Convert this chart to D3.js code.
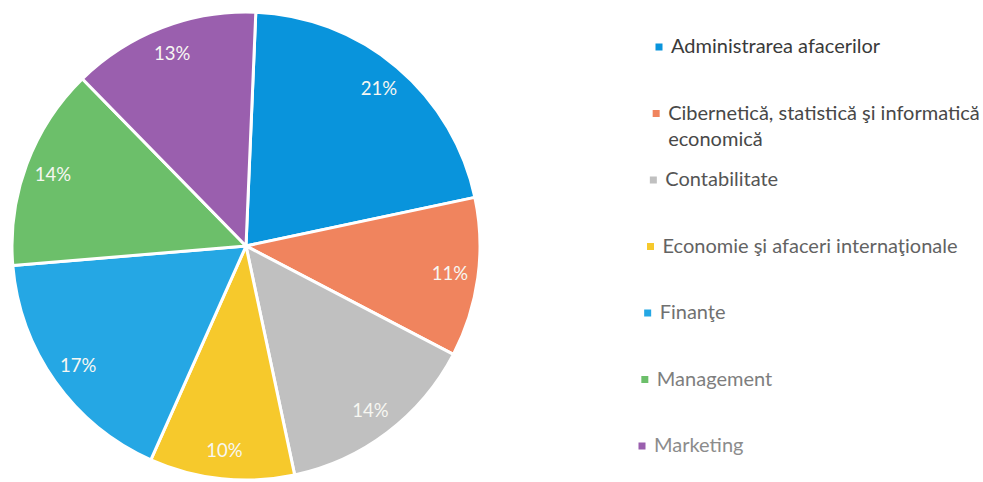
<!DOCTYPE html>
<html>
<head>
<meta charset="utf-8">
<script src="https://cdn.jsdelivr.net/npm/d3@7"></script>
<style>
  body { margin: 0; background: #fff; }
</style>
</head>
<body>
<div class="chart"></div>
<script>
const categories = [
  "Administrarea afacerilor",
  "Cibernetică, statistică şi informatică economică",
  "Contabilitate",
  "Economie şi afaceri internaţionale",
  "Finanţe",
  "Management",
  "Marketing"
];
const values = [21, 11, 14, 10, 17, 14, 13];
const colors = ["#0994dc", "#f0845e", "#c0c0c0", "#f6c92c", "#25a7e4", "#6cbf6a", "#9a5fae"];

const data = categories.map((c, i) => ({name: c, value: values[i]}));

const width = 983, height = 482;
const cx = 246, cy = 246, radius = 234;
const tilt = 2.4 * Math.PI / 180;

const svg = d3.select(".chart").append("svg")
    .attr("width", width)
    .attr("height", height);

const color = d3.scaleOrdinal()
    .domain(categories)
    .range(colors);

const pie = d3.pie()
    .value(d => d.value)
    .sort(null)
    .startAngle(tilt)
    .endAngle(2 * Math.PI + tilt);

const arc = d3.arc()
    .innerRadius(0)
    .outerRadius(radius);

const labelArc = d3.arc()
    .innerRadius(radius * 0.88)
    .outerRadius(radius * 0.88);

const arcs = pie(data);

const g = svg.append("g")
    .attr("transform", `translate(${cx},${cy})`);

g.selectAll("path")
    .data(arcs)
    .join("path")
    .attr("d", arc)
    .attr("fill", d => color(d.data.name))
    .attr("stroke", "white")
    .attr("stroke-width", 3)
    .attr("stroke-linejoin", "round");

g.selectAll("text")
    .data(arcs)
    .join("text")
    .attr("transform", d => `translate(${labelArc.centroid(d)})`)
    .attr("text-anchor", "middle")
    .attr("dy", "0.35em")
    .attr("font-family", "Lato, sans-serif")
    .attr("font-size", 18.5)
    .attr("fill", "#f7f7f2")
    .text(d => d.data.value + "%");

// legend (the photo leans a bit, so items drift left going down)
const y = d3.scalePoint()
    .domain(categories)
    .range([47, 446]);

const x = d3.scaleLinear()
    .domain([47, 446])
    .range([659, 642]);

const legend = svg.append("g")
    .attr("font-family", "Lato, sans-serif")
    .attr("font-size", 20);

const item = legend.selectAll("g")
    .data(categories)
    .join("g")
    .attr("transform", d => `translate(${x(y(d))},${y(d)})`);

item.append("rect")
    .attr("x", -3.5)
    .attr("y", -3.5)
    .attr("width", 7)
    .attr("height", 7)
    .attr("fill", d => color(d));

const fade = d3.interpolateRgb("#3a3a3a", "#8c8c8c");

item.append("text")
    .attr("fill", (d, i) => fade(i / (categories.length - 1)))
    .each(function(d) {
      const t = d3.select(this);
      const parts = d === categories[1]
        ? ["Cibernetică, statistică şi informatică", "economică"]
        : [d];
      parts.forEach((p, j) => {
        t.append("tspan")
          .attr("x", 12)
          .attr("dy", j === 0 ? "0.3em" : "1.3em")
          .text(p);
      });
    });
</script>
</body>
</html>
